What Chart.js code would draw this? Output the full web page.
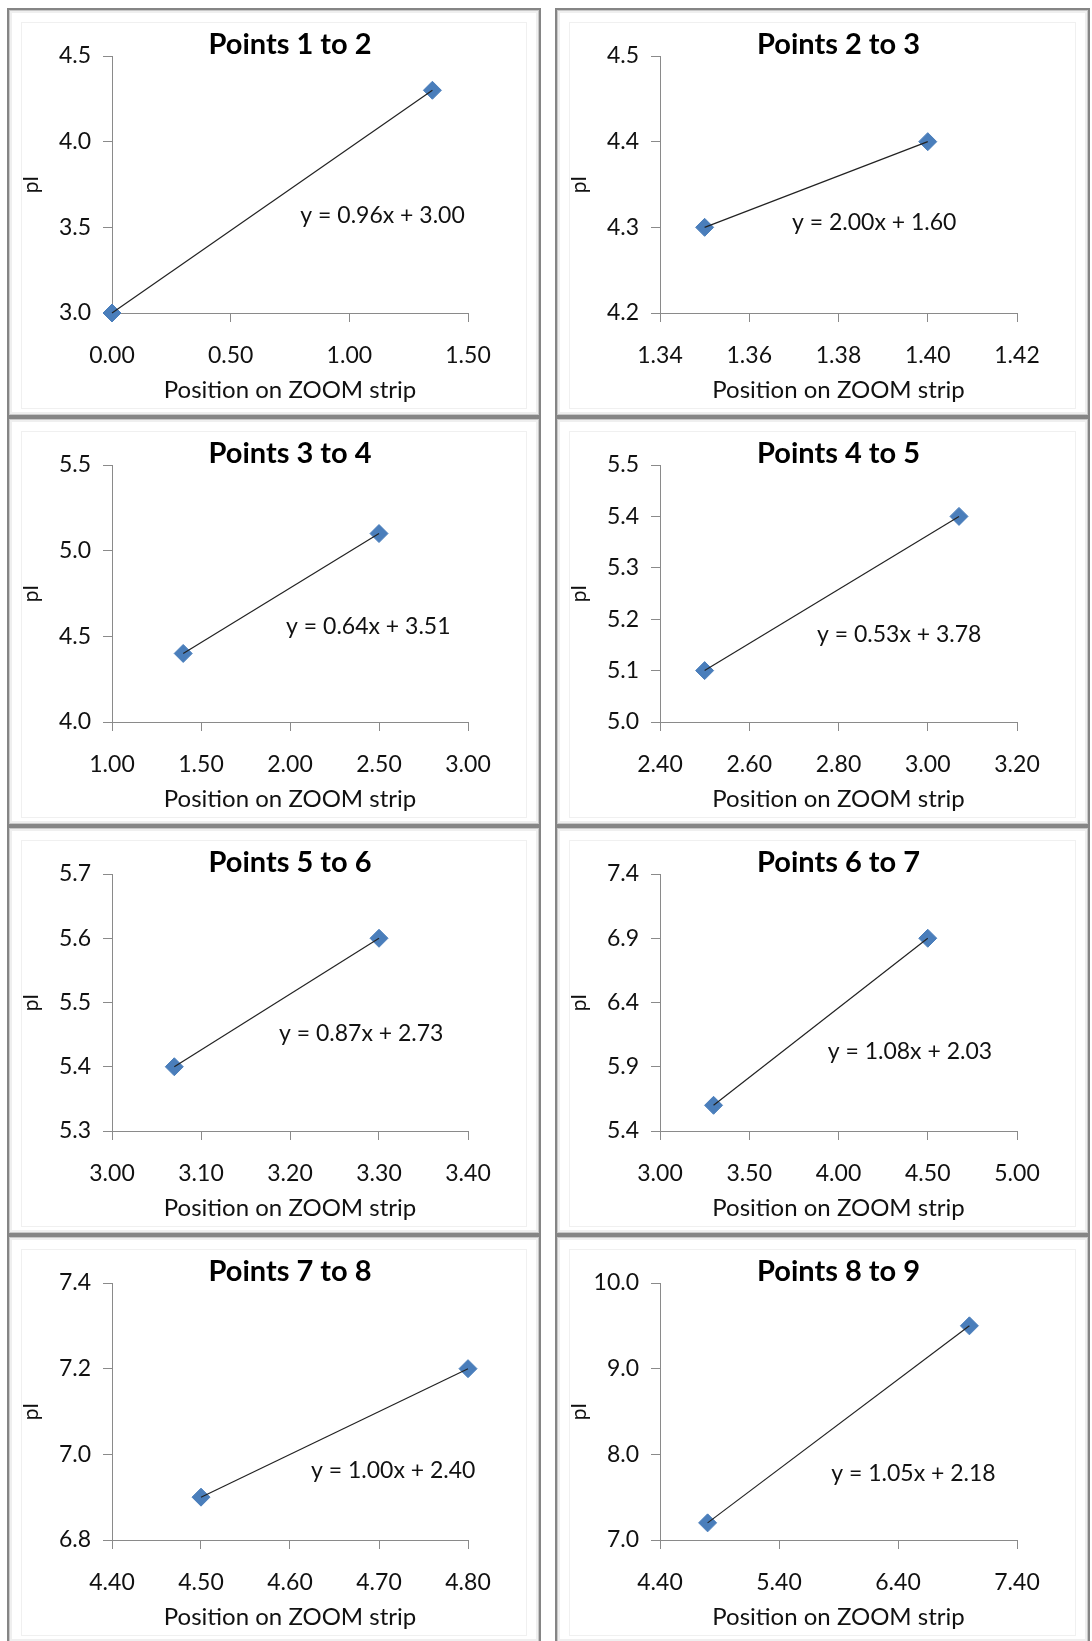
<!DOCTYPE html>
<html>
<head>
<meta charset="utf-8">
<script src="https://cdn.jsdelivr.net/npm/chart.js@4.4.0/dist/chart.umd.min.js"></script>
<style>
  body { margin: 0; background: #fff; width: 1092px; height: 1641px; overflow: hidden; position: relative; }
  .panel { position: absolute; box-sizing: border-box; border: 2px solid #858585;
           box-shadow: inset 0 0 0 1px #c8c8c8, inset 0 0 0 3px #efefef; background: #fff; }
  .panel .inner { position: absolute; left: 12px; top: 12px; right: 12px; bottom: 6px; border: 1px solid #f0f0f0; }
  .panel canvas { position: absolute; left: 0; top: 0; }
</style>
</head>
<body>
<script>
// data
var titles = ['Points 1 to 2', 'Points 2 to 3', 'Points 3 to 4', 'Points 4 to 5',
              'Points 5 to 6', 'Points 6 to 7', 'Points 7 to 8', 'Points 8 to 9'];
var xValues = [[0.00, 1.35], [1.35, 1.40], [1.40, 2.50], [2.50, 3.07],
               [3.07, 3.30], [3.30, 4.50], [4.50, 4.80], [4.80, 7.00]];
var yValues = [[3.0, 4.3], [4.3, 4.4], [4.4, 5.1], [5.1, 5.4],
               [5.4, 5.6], [5.6, 6.9], [6.9, 7.2], [7.2, 9.5]];
var equations = ['y = 0.96x + 3.00', 'y = 2.00x + 1.60', 'y = 0.64x + 3.51', 'y = 0.53x + 3.78',
                 'y = 0.87x + 2.73', 'y = 1.08x + 2.03', 'y = 1.00x + 2.40', 'y = 1.05x + 2.18'];
var xMin = [0.00, 1.34, 1.00, 2.40, 3.00, 3.00, 4.40, 4.40];
var xMax = [1.50, 1.42, 3.00, 3.20, 3.40, 5.00, 4.80, 7.40];
var xStep = [0.5, 0.02, 0.5, 0.2, 0.1, 0.5, 0.1, 1.0];
var yMin = [3.0, 4.2, 4.0, 5.0, 5.3, 5.4, 6.8, 7.0];
var yMax = [4.5, 4.5, 5.5, 5.5, 5.7, 7.4, 7.4, 10.0];
var yStep = [0.5, 0.1, 0.5, 0.1, 0.1, 0.5, 0.2, 1.0];
var xTitle = 'Position on ZOOM strip';
var yTitle = 'pI';

// where each equation label sits, as a fraction of the plot area
var eqPos = [[0.76, 0.62], [0.60, 0.65], [0.72, 0.63], [0.67, 0.66],
             [0.70, 0.62], [0.70, 0.69], [0.79, 0.73], [0.71, 0.74]];

var FONT = 'Lato, "Open Sans", sans-serif';

// title centred over the plot area, plus the trendline equation
var panelText = {
    id: 'panelText',
    afterDatasetsDraw: function (chart, args, opts) {
        var a = chart.chartArea, ctx = chart.ctx;
        ctx.save();
        ctx.textAlign = 'center';
        ctx.textBaseline = 'middle';
        ctx.fillStyle = '#000';
        ctx.font = 'bold 29px ' + FONT;
        ctx.fillText(opts.title, (a.left + a.right) / 2, 35);
        ctx.font = '23px ' + FONT;
        ctx.fillStyle = '#111';
        ctx.fillText(opts.text, a.left + opts.fx * (a.right - a.left), a.top + opts.fy * (a.bottom - a.top));
        ctx.restore();
    }
};

function makePanel(i) {
    var col = i % 2, row = Math.floor(i / 2);
    var panel = document.createElement('div');
    panel.className = 'panel';
    var w = col ? 535 : 534, h = 409;
    panel.style.left = (col ? 555 : 7) + 'px';
    panel.style.top = (8 + row * 409) + 'px';
    panel.style.width = w + 'px';
    panel.style.height = h + 'px';
    var inner = document.createElement('div');
    inner.className = 'inner';
    panel.appendChild(inner);
    var canvas = document.createElement('canvas');
    canvas.width = w - 4;
    canvas.height = h - 4;
    canvas.style.width = (w - 4) + 'px';
    canvas.style.height = (h - 4) + 'px';
    panel.appendChild(canvas);
    document.body.appendChild(panel);

    var pts = xValues[i].map(function (x, k) { return { x: x, y: yValues[i][k] }; });

    new Chart(canvas.getContext('2d'), {
        type: 'scatter',
        data: {
            datasets: [{
                data: pts,
                showLine: true,
                borderColor: '#222',
                borderWidth: 1.2,
                pointRadius: 0,
                clip: false,
                order: 0
            }, {
                data: pts,
                showLine: false,
                pointStyle: 'rectRot',
                pointRadius: 9,
                backgroundColor: '#4A7EBB',
                borderColor: '#4A7EBB',
                borderWidth: 1,
                clip: false,
                order: 1
            }]
        },
        options: {
            responsive: false,
            animation: false,
            layout: { padding: { left: 10, right: 71, top: 46, bottom: 10 } },
            plugins: {
                legend: { display: false },
                tooltip: { enabled: false },
                title: { display: false },
                panelText: { title: titles[i], text: equations[i], fx: eqPos[i][0], fy: eqPos[i][1] }
            },
            scales: {
                x: {
                    type: 'linear',
                    min: xMin[i], max: xMax[i],
                    afterFit: function (s) { s.height = 92; },
                    border: { color: '#8a8a8a', width: 1 },
                    grid: { drawOnChartArea: false, drawTicks: true, tickLength: 9, color: '#8a8a8a' },
                    ticks: {
                        stepSize: xStep[i], padding: 20, maxRotation: 0, autoSkip: false,
                        color: '#111', font: { family: FONT, size: 23 },
                        callback: function (v) { return Number(v).toFixed(2); }
                    },
                    title: {
                        display: true, text: xTitle, color: '#111',
                        font: { family: FONT, size: 24 }, padding: { top: 0, bottom: 0 }
                    }
                },
                y: {
                    type: 'linear',
                    min: yMin[i], max: yMax[i],
                    afterFit: function (s) { s.width = 93; },
                    border: { color: '#8a8a8a', width: 1 },
                    grid: { drawOnChartArea: false, drawTicks: true, tickLength: 9, color: '#8a8a8a' },
                    ticks: {
                        stepSize: yStep[i], padding: 12, autoSkip: false,
                        color: '#111', font: { family: FONT, size: 23 },
                        callback: function (v) { return Number(v).toFixed(1); }
                    },
                    title: {
                        display: true, text: yTitle, color: '#111',
                        font: { family: FONT, size: 21 }, padding: { top: 0, bottom: 0 }
                    }
                }
            }
        },
        plugins: [panelText]
    });
}

for (var i = 0; i < titles.length; i++) makePanel(i);
</script>
</body>
</html>
